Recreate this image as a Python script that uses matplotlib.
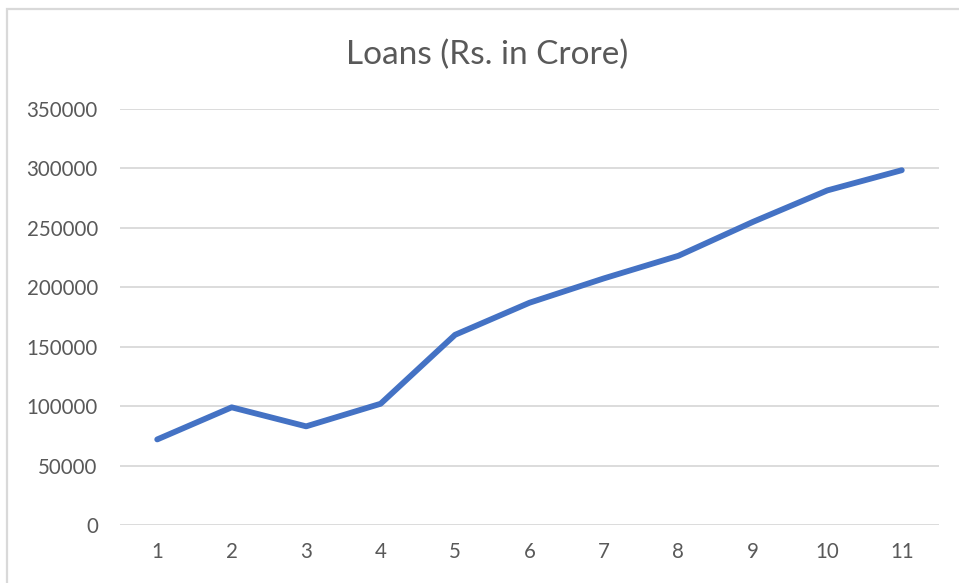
import matplotlib
matplotlib.use("Agg")
import matplotlib.pyplot as plt
from matplotlib.patches import Rectangle

years = [1, 2, 3, 4, 5, 6, 7, 8, 9, 10, 11]
loans = [72000, 99000, 83000, 102000, 160000, 187000, 207500, 226500, 255000, 281500, 298500]
yticks = [0, 50000, 100000, 150000, 200000, 250000, 300000, 350000]

plt.rcParams['font.family'] = ['Lato', 'DejaVu Sans']

fig = plt.figure(figsize=(9.59, 5.83), dpi=100)
fig.patch.set_facecolor('white')
# chart frame (left and top edges visible)
fig.patches.append(Rectangle((7/959, -0.1), 1.2, 1 - 9/583 + 0.1, transform=fig.transFigure,
                             fill=False, edgecolor='#d9d9d9', linewidth=1.6))

ax = fig.add_axes([120/959, 1 - 525/583, (939 - 120)/959, (525 - 109)/583])
ax.plot(years, loans, color='#4472c4', linewidth=4.2, solid_capstyle='round', solid_joinstyle='round', zorder=3)
ax.set_xlim(0.5, 11.5)
ax.set_ylim(0, 350000)
ax.set_yticks(yticks)
ax.set_yticklabels([str(v) for v in yticks])
ax.set_xticks(years)
ax.set_xticklabels([str(v) for v in years])
ax.grid(axis='y', color='#d9d9d9', linewidth=1.3)
ax.set_axisbelow(True)
for s in ax.spines.values():
    s.set_visible(False)
ax.tick_params(axis='both', length=0, labelsize=14.8, labelcolor='#595959')
ax.tick_params(axis='y', pad=16)
ax.tick_params(axis='x', pad=12)
fig.text(487/959, 1 - 55/583, 'Loans (Rs. in Crore)', ha='center', va='center',
         fontsize=24, color='#595959')

fig.savefig('out.png', dpi=100, facecolor='white')
